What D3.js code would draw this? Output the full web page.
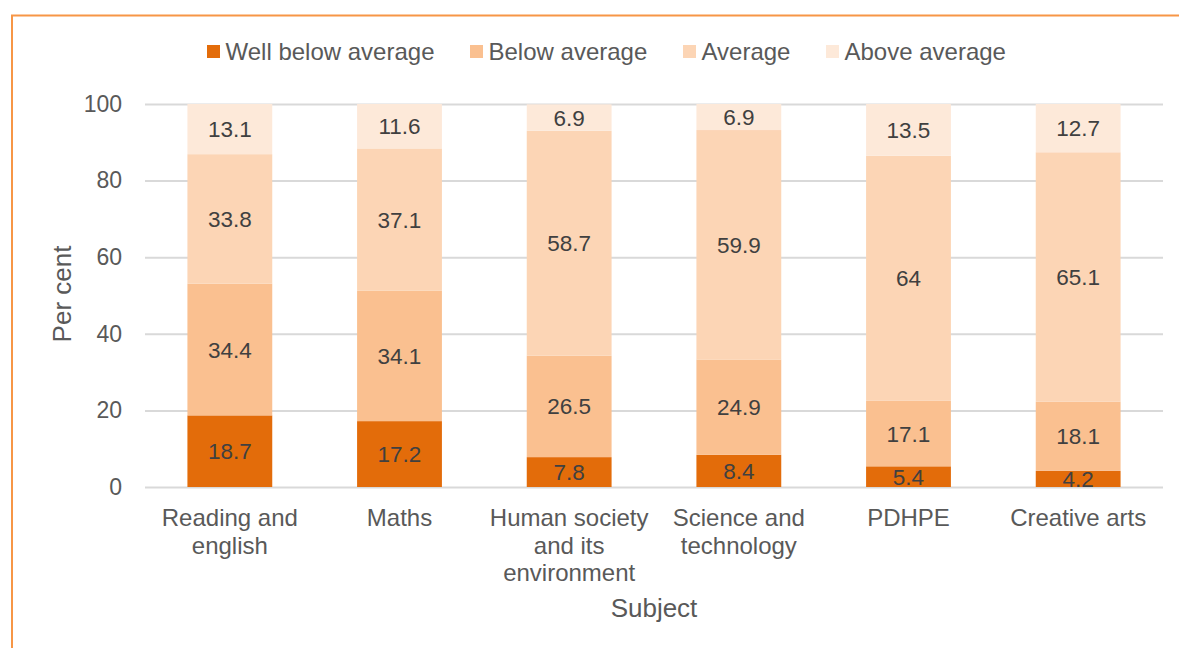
<!DOCTYPE html>
<html>
<head>
<meta charset="utf-8">
<script src="https://cdn.jsdelivr.net/npm/d3@7"></script>
<style>
  html, body { margin: 0; padding: 0; background: #fff; }
  svg { display: block; font-family: "Liberation Sans", Arial, sans-serif; }
</style>
</head>
<body>
<svg id="chart" width="1179" height="648"></svg>
<script>
const categories = [
  ["Reading and", "english"],
  ["Maths"],
  ["Human society", "and its", "environment"],
  ["Science and", "technology"],
  ["PDHPE"],
  ["Creative arts"]
];
const seriesNames = ["Well below average", "Below average", "Average", "Above average"];
const wellBelow = [18.7, 17.2, 7.8, 8.4, 5.4, 4.2];
const below     = [34.4, 34.1, 26.5, 24.9, 17.1, 18.1];
const average   = [33.8, 37.1, 58.7, 59.9, 64, 65.1];
const above     = [13.1, 11.6, 6.9, 6.9, 13.5, 12.7];
const yTicks = [0, 20, 40, 60, 80, 100];
const colors = ["#E36C0A", "#FAC090", "#FCD5B5", "#FDE9D9"];

const seriesValues = [wellBelow, below, average, above];
const svg = d3.select("#chart");
const W = 1179, H = 648;
const textColor = "#595959";

// frame
svg.append("path")
  .attr("d", `M12,${H} L12,15.5 L${W},15.5`)
  .attr("fill", "none").attr("stroke", "#F79646").attr("stroke-width", 2);

const plot = { left: 145, right: 1163, top: 104, bottom: 487 };
const catIdx = categories.map((c, i) => i);
const x = d3.scaleBand().domain(catIdx).range([plot.left, plot.right]).paddingInner(0.5).paddingOuter(0.25);
const y = d3.scaleLinear().domain([0, 100]).range([plot.bottom, plot.top]);

// gridlines
const grid = d3.axisLeft(y).tickValues(yTicks).tickSize(-(plot.right - plot.left)).tickFormat("");
const gg = svg.append("g").attr("transform", `translate(${plot.left},0)`).call(grid);
gg.select(".domain").remove();
gg.selectAll("line").attr("stroke", "#D9D9D9").attr("stroke-width", 2);

// y tick labels
const yAxis = d3.axisLeft(y).tickValues(yTicks).tickSize(0).tickPadding(23);
const ya = svg.append("g").attr("transform", `translate(${plot.left},0)`).call(yAxis);
ya.select(".domain").remove();
ya.selectAll("text").attr("font-size", 23).attr("fill", textColor)
  .attr("font-family", "Liberation Sans, Arial, sans-serif");

// stacked bars
const rows = catIdx.map(i => {
  const r = { i };
  seriesNames.forEach((s, k) => r[s] = seriesValues[k][i]);
  return r;
});
const stack = d3.stack().keys(seriesNames)(rows);

stack.forEach((layer, k) => {
  const g = svg.append("g");
  g.selectAll("rect").data(layer).join("rect")
    .attr("x", d => x(d.data.i))
    .attr("width", x.bandwidth())
    .attr("y", d => y(Math.min(d[1], 100)))
    .attr("height", d => y(d[0]) - y(Math.min(d[1], 100)))
    .attr("fill", colors[k]);
  g.selectAll("text").data(layer).join("text")
    .attr("x", d => x(d.data.i) + x.bandwidth() / 2)
    .attr("y", d => (y(d[0]) + y(Math.min(d[1], 100))) / 2)
    .attr("dy", "0.36em")
    .attr("text-anchor", "middle")
    .attr("font-size", 22.5)
    .attr("fill", "#404040")
    .text(d => d.data[seriesNames[k]]);
});

// x axis labels
const xl = svg.append("g");
catIdx.forEach(i => {
  const cx = x(i) + x.bandwidth() / 2;
  const t = xl.append("text")
    .attr("x", cx)
    .attr("y", 526)
    .attr("text-anchor", "middle")
    .attr("font-size", 24)
    .attr("fill", textColor);
  categories[i].forEach((line, j) => {
    t.append("tspan").attr("x", cx).attr("dy", j === 0 ? 0 : 27.5).text(line);
  });
});

// axis titles
svg.append("text").attr("x", 654).attr("y", 617)
  .attr("text-anchor", "middle").attr("font-size", 26).attr("fill", textColor).text("Subject");
svg.append("text").attr("transform", "translate(71,294) rotate(-90)")
  .attr("text-anchor", "middle").attr("font-size", 26).attr("fill", textColor).text("Per cent");

// legend
const legendX = [207, 470, 683, 826];
const lg = svg.append("g");
seriesNames.forEach((s, k) => {
  lg.append("rect").attr("x", legendX[k]).attr("y", 45).attr("width", 13).attr("height", 13).attr("fill", colors[k]);
  lg.append("text").attr("x", legendX[k] + 18.5).attr("y", 60)
    .attr("font-size", 24).attr("fill", textColor).text(s);
});
</script>
</body>
</html>
